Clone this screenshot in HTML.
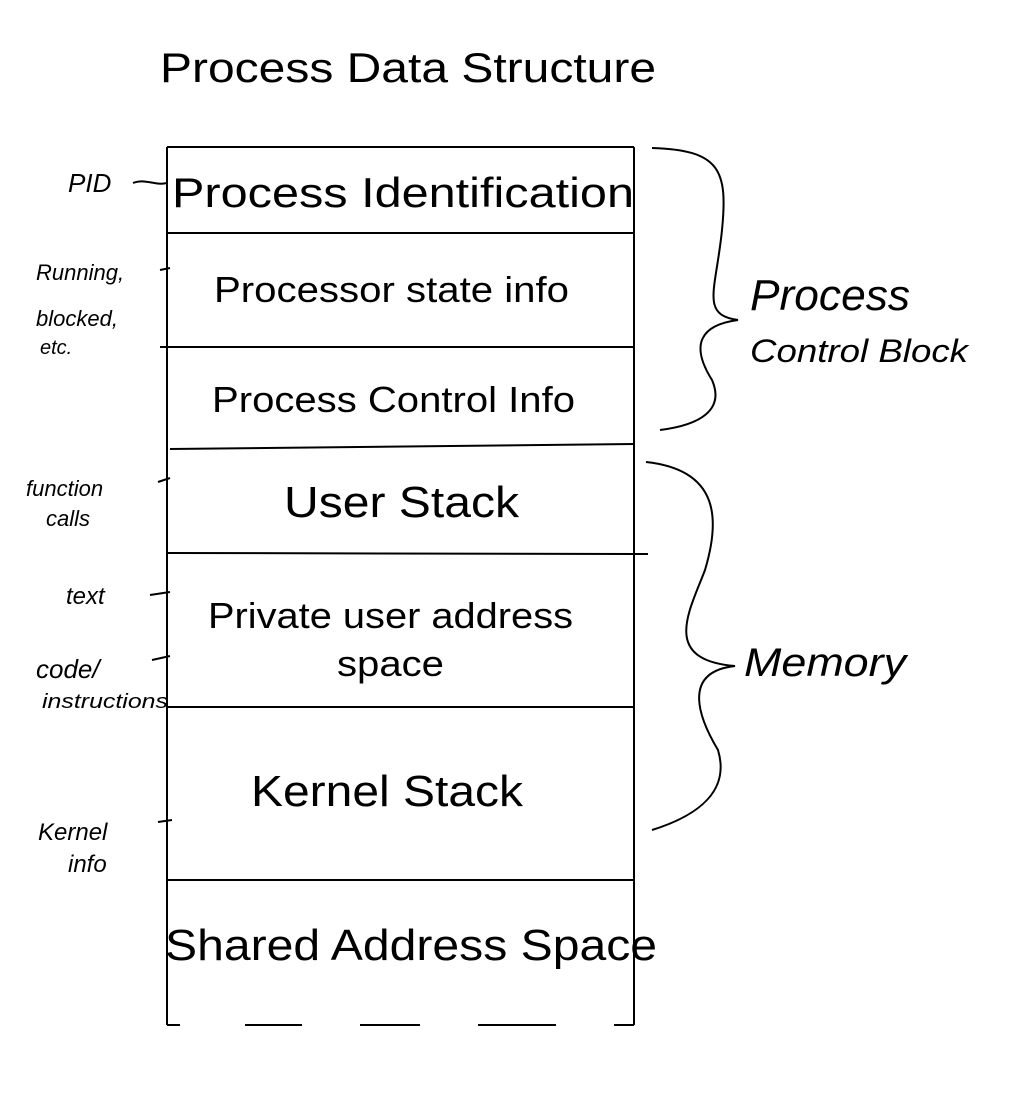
<!DOCTYPE html>
<html><head><meta charset="utf-8"><style>
html,body{margin:0;padding:0;background:#fff;}
svg{display:block;}
text{font-family:"Liberation Sans",sans-serif;fill:#000;}
.h{font-family:"Liberation Sans",sans-serif;font-style:italic;font-weight:normal;}
</style></head><body>
<svg width="1020" height="1097" viewBox="0 0 1020 1097" xmlns="http://www.w3.org/2000/svg">
<text x="160" y="82" font-size="42" textLength="496" lengthAdjust="spacingAndGlyphs">Process Data Structure</text>
<g stroke="#000" stroke-width="2" fill="none">
<line x1="167" y1="147" x2="634" y2="147"/>
<line x1="167" y1="147" x2="167" y2="1025"/>
<line x1="634" y1="147" x2="634" y2="1025"/>
<line x1="167" y1="233" x2="634" y2="233"/>
<line x1="167" y1="347" x2="634" y2="347"/>
<line x1="170" y1="449" x2="634" y2="444"/>
<line x1="167" y1="553" x2="648" y2="554"/>
<line x1="167" y1="707" x2="634" y2="707"/>
<line x1="167" y1="880" x2="634" y2="880"/>
<line x1="167" y1="1025" x2="180" y2="1025"/>
<line x1="245" y1="1025" x2="302" y2="1025"/>
<line x1="360" y1="1025" x2="420" y2="1025"/>
<line x1="478" y1="1025" x2="556" y2="1025"/>
<line x1="614" y1="1025" x2="634" y2="1025"/>
<path d="M652 148 C720 150 728 170 722 230 C716 290 700 315 738 320 C700 325 690 345 712 380 C725 410 700 425 660 430"/>
<path d="M646 462 C720 470 720 520 705 570 C690 610 660 660 735 666 C680 672 700 720 718 750 C730 790 700 815 652 830"/>
<path d="M133 183 C145 178 155 186 167 183"/>
<path d="M160 270 L170 268"/>
<path d="M160 347 L168 347"/>
<path d="M158 482 L170 478"/>
<path d="M150 595 L170 592"/>
<path d="M152 660 L170 656"/>
<path d="M158 822 L172 820"/>
</g>
<text x="172" y="207" font-size="42" textLength="462" lengthAdjust="spacingAndGlyphs">Process Identification</text>
<text x="214" y="302" font-size="36" textLength="355" lengthAdjust="spacingAndGlyphs">Processor state info</text>
<text x="212" y="412" font-size="36" textLength="363" lengthAdjust="spacingAndGlyphs">Process Control Info</text>
<text x="284" y="517" font-size="44" textLength="235" lengthAdjust="spacingAndGlyphs">User Stack</text>
<text x="208" y="628" font-size="36" textLength="365" lengthAdjust="spacingAndGlyphs">Private user address</text>
<text x="337" y="676" font-size="36" textLength="107" lengthAdjust="spacingAndGlyphs">space</text>
<text x="251" y="806" font-size="44" textLength="272" lengthAdjust="spacingAndGlyphs">Kernel Stack</text>
<text x="165" y="960" font-size="44" textLength="492" lengthAdjust="spacingAndGlyphs">Shared Address Space</text>
<text class="h" x="68" y="192" font-size="26">PID</text>
<text class="h" x="36" y="280" font-size="22">Running,</text>
<text class="h" x="36" y="326" font-size="22">blocked,</text>
<text class="h" x="40" y="354" font-size="20">etc.</text>
<text class="h" x="26" y="496" font-size="22">function</text>
<text class="h" x="46" y="526" font-size="22">calls</text>
<text class="h" x="66" y="604" font-size="24">text</text>
<text class="h" x="36" y="678" font-size="26">code/</text>
<text class="h" x="42" y="708" font-size="20" textLength="126" lengthAdjust="spacingAndGlyphs">instructions</text>
<text class="h" x="38" y="840" font-size="24">Kernel</text>
<text class="h" x="68" y="872" font-size="24">info</text>
<text class="h" x="750" y="310" font-size="44" textLength="160" lengthAdjust="spacingAndGlyphs">Process</text>
<text class="h" x="750" y="362" font-size="32" textLength="218" lengthAdjust="spacingAndGlyphs">Control Block</text>
<text class="h" x="744" y="676" font-size="40" textLength="162" lengthAdjust="spacingAndGlyphs">Memory</text>
</svg>
</body></html>
